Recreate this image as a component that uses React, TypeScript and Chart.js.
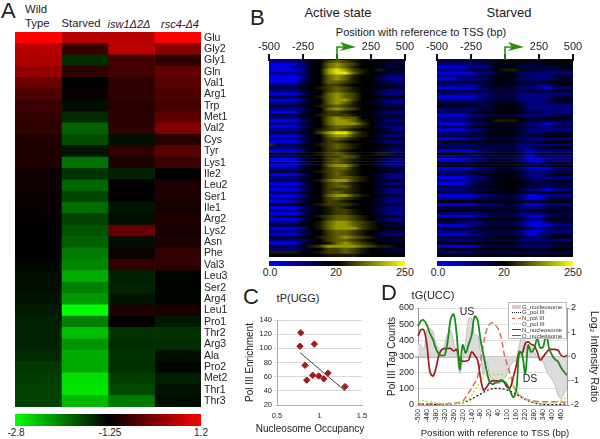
import React, { useEffect, useRef } from "react";
import { Chart, registerables } from "chart.js";

Chart.register(...registerables);
Chart.defaults.font.family = "'Liberation Sans', Arial, sans-serif";
Chart.defaults.color = "#222";

// ---------- Panel A ----------
const trnaLabels = ["Glu","Gly2","Gly1","Gln","Val1","Arg1","Trp","Met1","Val2","Cys","Tyr","Lys1","Ile2","Leu2","Ser1","Ile1","Arg2","Lys2","Asn","Phe","Val3","Leu3","Ser2","Arg4","Leu1","Pro1","Thr2","Arg3","Ala","Pro2","Met2","Thr1","Thr3"];
const wildType = [1,.72,.68,.58,.42,.3,.22,.2,.18,.12,.12,.13,.06,.05,.04,.03,.02,0,0,0,-.03,-.05,-.06,-.07,-.1,-.13,-.14,-.14,-.16,-.22,-.24,-.25,-.26];
const starved = [.72,.22,-.18,.18,0,.03,-.05,-.16,-.38,-.3,-.08,-.45,-.2,-.4,-.27,-.42,-.25,-.32,-.38,-.48,-.52,-.68,-.5,-.6,-1,-.5,-.75,-.58,-.68,-.66,-.88,-.9,-.72];
const isw1 = [.72,.75,.26,.26,.18,.18,.16,.17,.18,-.06,.18,.12,-.13,0,.02,-.08,-.05,.4,-.05,.05,.2,-.12,-.14,-.08,.12,0,-.2,-.18,-.2,-.18,-.24,-.28,-.48];
const rsc4 = [1,.55,.18,.38,.35,.3,.28,.36,.5,.16,.34,.22,0,.1,.1,.08,.12,.08,.1,.2,.2,-.01,-.02,-.02,.1,-.1,-.2,-.18,-.06,-.02,-.12,-.08,-.05];
const heatColumns = [wildType, starved, isw1, rsc4];

// ---------- Panel B (0 blue, 4 black, 9 yellow) ----------
const activeRows = [
"1111234676544332","0000134787644323","0001134787544322","0000134898654543","1111134899754322","0000134787544211",
"0000134787544211","0000234776544221","1111234665444322","2222345676544332","1111234676543211","0000134787644211",
"3222345787644333","0000134788644211","1111234787543211","2222345676544322","1111134787644333","0000234665444211",
"2222345666543222","1111234787744322","0000134788754211","1111234788864222","0000134677654211","1111245676544321",
"2222346899754332","0000134788654211","1111234676544333","0000134665443211","6222345676544332","1111234676544322",
"0000134665444211","2222345676544552","1111234667644322","0000234676544211","1111134676544211","0000234788644211",
"1111234677544322","2222345676544332","0000134676544211","1111234677654211","3222345788654332","0000134676544211",
"1111234677544333","0000134666544211","2222344676544211","0000134788654322","1111234676544211","0001234665444211",
"3333445666544322","0000134565443211","1111234566543211","0000134566544211","5333345677654332","0000134677654211",
"1111345788765332","2222345788765422","0000145788865443","1111234677654322","0000134677654211","2222345678765333",
"1111134677654322","0000234578765443","2222356888876554","1111234667654322","5555445667654433","3333444555544444"];
const starvedRows = [
"2222222344443344","1111112333222333","0000111334222224","1111222455322222","0000011233111111","1111122344221123",
"0001112333111122","2222222333222333","1111122333221133","0000012222111011","3222222322222233","1111111222111111",
"0000011222111122","1111112222111233","2222222333211122","4333222333211111","1111122333211111","2222233444322111",
"0000112222111122","1111223444322333","1111224555422222","0000122333211011","2222233433221122","0000112333211111",
"1111223433211222","2222223333222333","0000112222111111","5333333333222344","1111122222111111","2222222222112233",
"0000011222101111","3333223333212222","1111112222101111","0000112222100111","2222233333211222","3333333333322233",
"0000011222100011","1111222333211122","2222233333211233","0000112333211111","1111122333321333","0000122344322222",
"2222233344322122","1111222333211011","3222233344333333","0000011222100111","1111122222100122","4433333333322333",
"0000011122100111","2222222222111222","4444443333333333","1111112222111222","0000011222100122","3333233333211333",
"2221112222100122","0000112222100011","3333333333321222","1111122222100111","0000112222101122","2222222333211333",
"1111122222111111","3333333333222233","0000012222111122","5443333333333344","1111122222222222","3333333333333333"];
const tssTicks = [-500, -250, 0, 250, 500];
const heatPalette = ["rgb(0,0,230)","rgb(0,0,125)","rgb(0,0,60)","rgb(0,0,20)","rgb(0,0,0)","rgb(25,25,0)","rgb(60,60,0)","rgb(95,95,0)","rgb(150,150,0)","rgb(230,230,0)"];

// ---------- Panel C ----------
const occupancy = [0.78, 0.77, 0.94, 0.83, 0.85, 0.92, 0.99, 1.05, 1.1, 1.3];
const enrichment = [122, 103, 106, 76, 55, 62, 61, 57, 65, 46];
const trendX = [0.77, 1.3];
const trendY = [94, 40];

// ---------- Panel D ----------
const positions = ["-500","-480","-460","-440","-420","-400","-380","-360","-340","-320","-300","-280","-260","-240","-220","-200","-180","-160","-140","-120","-100","-80","-60","-40","-20","0","20","40","60","80","100","120","140","160","180","200","220","240","260","280","300","320","340","360","380","400","420","440","460","480","500"];
const gNucleosome = [.53,.47,.33,1.08,1.15,1.01,.53,.33,.26,.53,.95,1.08,.53,.19,-.7,-.15,.53,1.56,1.56,.88,.88,.12,-.77,-.22,-.77,-1.04,-1.11,-1.11,-1.08,-.9,-.7,-.36,-.22,-.15,.47,.81,.6,.33,.4,.19,-.01,-.15,-.22,-.56,-.77,-.95,-1.18,-1.59,-1.73,-1.52,-1.25];
const gPol = [6,6,5,5,5,4,4,4,5,5,6,7,8,9,12,15,20,28,38,48,58,68,78,88,96,101,103,103,101,98,92,85,76,66,55,44,34,25,18,13,9,6,4,3,2,2,2,3,4,5,6];
const nPol = [8,7,6,6,6,6,6,6,7,8,9,10,12,14,18,24,47,75,105,135,175,270,380,462,499,509,493,468,410,308,246,185,123,78,62,48,38,32,28,25,22,20,20,20,20,20,20,18,18,18,18];
const oPol = [30,28,26,23,20,15,11,9,8,8,8,9,10,12,14,17,25,40,62,90,118,140,165,182,186,187,187,189,190,185,172,150,120,88,65,50,38,28,20,14,12,10,9,9,10,12,16,22,30,40,50];
const nNucleosome = [.84,1.11,1.08,.47,-.63,-.81,-.49,.05,.29,.33,.33,.33,.23,.29,-.15,-.19,-.19,-.15,.19,.05,-.15,-.9,-1.38,-1.27,-1.08,-1,-1,-1.01,-.97,-1.08,-1.27,-1.27,-.84,-.36,.19,.15,.53,.6,.5,.44,.19,-.15,-.01,.15,.29,.29,.29,.26,.05,-.01,.05];
const oNucleosome = [1.25,1.47,1.49,1.29,.95,.7,.33,.1,.04,.07,.67,1.56,1.74,.88,-.53,.47,.15,.5,.88,1.66,1.49,.67,.05,-.56,-1.04,-1.14,-1.08,-1.04,-1,-1.04,-1.18,-1.45,-1.68,-1.38,.19,.05,-.7,.47,.19,.33,.74,.36,.4,.92,.33,.05,-.12,-.22,-.45,-.63,-.77];
const legendNames = ["G_nucleosome","G_pol III","N_pol III","O_pol III","N_nucleosome","O_nucleosome"];

const heatColor = (v: number) => {
  const c = Math.round(Math.abs(v) * 255);
  return v >= 0 ? `rgb(${c},0,0)` : `rgb(0,${c},0)`;
};

function heatmapAConfig(): any {
  return {
    type: "bar",
    data: {
      labels: trnaLabels,
      datasets: heatColumns.map((col, c) => ({
        data: col.map(() => [c, c + 1]),
        backgroundColor: col.map(heatColor),
        borderWidth: 0,
        barPercentage: 1,
        categoryPercentage: 1,
        grouped: false,
      })),
    },
    options: {
      indexAxis: "y",
      animation: false,
      responsive: false,
      layout: { padding: 0 },
      plugins: { legend: { display: false }, tooltip: { enabled: false } },
      scales: {
        x: { type: "linear", min: 0, max: 4, display: false },
        y: {
          position: "right",
          border: { display: false },
          grid: { display: false, drawTicks: false },
          ticks: { autoSkip: false, padding: 3, font: { size: 10.5 }, color: "#222" },
          afterFit: (s: any) => { s.width = 34; s.paddingTop = 0; s.paddingBottom = 0; },
        },
      },
    },
  };
}

function tssConfig(rows: string[]): any {
  const arrow = {
    id: "tssArrow",
    afterDraw(chart: any) {
      const g = chart.ctx;
      const px = chart.scales.x.getPixelForValue(0);
      const top = chart.chartArea.top;
      g.save();
      g.strokeStyle = "#2e8b12";
      g.fillStyle = "#2e8b12";
      g.lineWidth = 1.6;
      g.beginPath();
      g.moveTo(px, top);
      g.lineTo(px, top - 13);
      g.lineTo(px + 7, top - 13);
      g.stroke();
      g.beginPath();
      g.moveTo(px + 3, top - 18);
      g.lineTo(px + 19, top - 13);
      g.lineTo(px + 3, top - 9);
      g.lineTo(px + 7, top - 13);
      g.closePath();
      g.fill();
      g.restore();
    },
  };
  return {
    type: "bar",
    plugins: [arrow],
    data: {
      labels: rows.map((_, i) => String(i)),
      datasets: [{
        data: rows.map(() => [-500, 500]),
        backgroundColor: (ctx: any) => {
          const area = ctx.chart.chartArea;
          if (!area || ctx.dataIndex === undefined) return "#000";
          const g = ctx.chart.ctx.createLinearGradient(area.left, 0, area.right, 0);
          const r = rows[ctx.dataIndex];
          for (let i = 0; i < r.length; i++) g.addColorStop(i / 16, heatPalette[Number(r[i])]);
          return g;
        },
        borderWidth: 0,
        barPercentage: 1,
        categoryPercentage: 1,
      }],
    },
    options: {
      indexAxis: "y",
      animation: false,
      responsive: false,
      layout: { padding: { left: 14, right: 15, top: 0, bottom: 0 } },
      plugins: { legend: { display: false }, tooltip: { enabled: false } },
      scales: {
        y: { display: false },
        x: {
          type: "linear",
          position: "top",
          min: -500,
          max: 500,
          afterBuildTicks: (s: any) => { s.ticks = tssTicks.map((value) => ({ value })); },
          border: { color: "#111", width: 2 },
          grid: { drawOnChartArea: false, color: "#111", lineWidth: 2, tickLength: 6 },
          ticks: {
            font: { size: 11 },
            color: "#222",
            padding: 0,
            maxRotation: 0,
            callback: (v: any) => (v === 0 ? "" : String(v)),
          },
          afterFit: (s: any) => { s.height = 20; },
        },
      },
    },
  };
}

function scatterConfig(): any {
  return {
    type: "scatter",
    data: {
      datasets: [
        {
          data: occupancy.map((x, i) => ({ x, y: enrichment[i] })),
          pointStyle: "rectRot",
          pointRadius: 3.2,
          backgroundColor: "#a31a1a",
          borderColor: "#a31a1a",
          order: 1,
        },
        {
          type: "line",
          data: trendX.map((x, i) => ({ x, y: trendY[i] })),
          borderColor: "#444",
          borderWidth: 1,
          pointRadius: 0,
          order: 2,
        },
      ],
    },
    options: {
      animation: false,
      responsive: false,
      layout: { padding: { top: 8, right: 17 } },
      plugins: { legend: { display: false }, tooltip: { enabled: false } },
      scales: {
        x: {
          type: "linear",
          min: 0.5,
          max: 1.5,
          border: { color: "#aaa" },
          grid: { display: false, tickLength: 3, color: "#aaa" },
          ticks: { stepSize: 0.5, font: { size: 7.5 }, color: "#222", padding: 3, maxRotation: 0, callback: (v: any) => String(v) },
          afterFit: (s: any) => { s.height = 31; },
        },
        y: {
          min: 20,
          max: 140,
          border: { color: "#aaa" },
          grid: { color: "#d9d9d9", tickLength: 3 },
          ticks: { stepSize: 20, font: { size: 7.5 }, color: "#222", padding: 2 },
          title: { display: true, text: "Pol III Enrichment", font: { size: 10 }, color: "#222", padding: 0 },
          afterFit: (s: any) => { s.width = 33; },
        },
      },
    },
  };
}

function profileConfig(): any {
  const line = (i: number, data: number[], yAxisID: string, color: string, width: number, dash: number[], order: number) => ({
    label: legendNames[i],
    data,
    yAxisID,
    borderColor: color,
    borderWidth: width,
    borderDash: dash,
    pointRadius: 0,
    tension: 0.35,
    order,
    fill: false,
  });
  return {
    type: "line",
    data: {
      labels: positions,
      datasets: [
        { ...line(0, gNucleosome, "y2", "#bdbdbd", 1, [], 6), fill: { value: 0 }, backgroundColor: "#dcdcdc" },
        line(1, gPol, "y", "#111", 1.2, [2, 2], 5),
        line(2, nPol, "y", "#e0605c", 1.4, [6, 3], 4),
        line(3, oPol, "y", "#b3e63c", 1.5, [2, 2], 3),
        line(4, nNucleosome, "y2", "#a01a1a", 1.7, [], 2),
        line(5, oNucleosome, "y2", "#178a17", 1.8, [], 1),
      ],
    },
    options: {
      animation: false,
      responsive: false,
      layout: { padding: { top: 18 } },
      plugins: { legend: { display: false }, tooltip: { enabled: false } },
      scales: {
        x: {
          border: { color: "#999" },
          grid: { display: false, tickLength: 3, color: "#999" },
          ticks: {
            autoSkip: false,
            minRotation: 90,
            maxRotation: 90,
            font: { size: 6.8 },
            color: "#222",
            padding: 1,
            callback: (_: any, i: number) => (i % 3 === 0 && i < 50 ? positions[i] : ""),
          },
          afterFit: (s: any) => { s.height = 34; },
        },
        y: {
          min: 0,
          max: 600,
          border: { color: "#999" },
          grid: {
            color: (c: any) => (c.tick && c.tick.value === 300 ? "#bdbdbd" : "#e0e0e0"),
            lineWidth: (c: any) => (c.tick && c.tick.value === 300 ? 2 : 1),
            tickLength: 3,
          },
          ticks: { stepSize: 100, font: { size: 9 }, color: "#222", padding: 1 },
          title: { display: true, text: "Pol III Tag Counts", font: { size: 10 }, color: "#222", padding: 0 },
          afterFit: (s: any) => { s.width = 32; },
        },
        y2: {
          position: "right",
          min: -2,
          max: 2,
          border: { color: "#999" },
          grid: { drawOnChartArea: false, tickLength: 3, color: "#999" },
          ticks: { stepSize: 0.5, font: { size: 9 }, color: "#222", padding: 1, callback: (v: any) => String(v) },
          title: { display: true, text: "Log\u2082 Intensity Ratio", font: { size: 10.5 }, color: "#222", padding: 0 },
          afterFit: (s: any) => { s.width = 33; },
        },
      },
    },
  };
}

function Plot({ x, y, w, h, make }: { x: number; y: number; w: number; h: number; make: () => any }) {
  const ref = useRef<HTMLCanvasElement>(null);
  useEffect(() => {
    const chart = new Chart(ref.current as HTMLCanvasElement, make());
    return () => chart.destroy();
  }, []);
  return <canvas ref={ref} width={w} height={h} style={{ position: "absolute", left: x, top: y, width: w, height: h, display: "block" }} />;
}

function Label({ x, y, size, text, align = "center", italic = false }: { x: number; y: number; size: number; text: string; align?: string; italic?: boolean }) {
  const tx = align === "center" ? "-50%" : align === "right" ? "-100%" : "0";
  return (
    <div style={{ position: "absolute", left: x, top: y, fontSize: size, lineHeight: 1, whiteSpace: "nowrap", color: "#222", fontStyle: italic ? "italic" : "normal", fontFamily: "'Liberation Sans', Arial, sans-serif", transform: `translate(${tx},-50%)` }}>
      {text}
    </div>
  );
}

function ColorBar({ x, y, w, h, stops }: { x: number; y: number; w: number; h: number; stops: string }) {
  return <div style={{ position: "absolute", left: x, top: y, width: w, height: h, background: `linear-gradient(to right, ${stops})` }} />;
}

const legendSwatches = [
  { color: "#cfcfcf", style: "solid", thick: 4 },
  { color: "#111", style: "dotted", thick: 1 },
  { color: "#e0605c", style: "dashed", thick: 1 },
  { color: "#b3e63c", style: "dotted", thick: 1 },
  { color: "#a01a1a", style: "solid", thick: 1.5 },
  { color: "#178a17", style: "solid", thick: 1.5 },
];

export default function App() {
  return (
    <div style={{ position: "absolute", left: 0, top: 0, width: 600, height: 439, background: "#fff", overflow: "hidden" }}>
      <Plot x={15} y={32} w={220} h={375} make={heatmapAConfig} />
      <Plot x={255} y={40} w={165} h={217} make={() => tssConfig(activeRows)} />
      <Plot x={423} y={40} w={165} h={217} make={() => tssConfig(starvedRows)} />
      <Plot x={244} y={312} w={135} h={124} make={scatterConfig} />
      <Plot x={386} y={290} w={214} h={149} make={profileConfig} />

      <Label x={1} y={11} size={22} text="A" align="left" />
      <Label x={25} y={10} size={11.3} text="Wild" align="left" />
      <Label x={25} y={24} size={11.3} text="Type" align="left" />
      <Label x={81} y={24} size={11.3} text="Starved" />
      <Label x={129} y={24} size={11} text="isw1Δ2Δ" italic />
      <Label x={180} y={24} size={11} text="rsc4-Δ4" italic />
      <ColorBar x={15} y={414} w={186} h={12} stops="#00ff00, #000 50%, #ff0000" />
      <Label x={16} y={433} size={10} text="-2.8" />
      <Label x={110} y={433} size={10} text="-1.25" />
      <Label x={201} y={433} size={10} text="1.2" />

      <Label x={250} y={18} size={22} text="B" align="left" />
      <Label x={338} y={12} size={13} text="Active state" />
      <Label x={509} y={12} size={13} text="Starved" />
      <Label x={421} y={32} size={11} text="Position with reference to TSS (bp)" />
      <ColorBar x={269} y={261} w={136} h={5} stops="#0000ff, #000 50%, #ffff00" />
      <Label x={270} y={272} size={10.5} text="0.0" />
      <Label x={336} y={272} size={10.5} text="20" />
      <Label x={405} y={272} size={10.5} text="250" />
      <ColorBar x={437} y={261} w={136} h={5} stops="#0000ff, #000 50%, #ffff00" />
      <Label x={438} y={272} size={10.5} text="0.0" />
      <Label x={504} y={272} size={10.5} text="20" />
      <Label x={573} y={272} size={10.5} text="250" />

      <Label x={243} y={297} size={22} text="C" align="left" />
      <Label x={298} y={298} size={11} text="tP(UGG)" />
      <Label x={310} y={429} size={10} text="Nucleosome Occupancy" />

      <Label x={381} y={293} size={22} text="D" align="left" />
      <Label x={433} y={295} size={11} text="tG(UCC)" />
      <Label x={495} y={433} size={9.6} text="Position with reference to TSS (bp)" />
      <Label x={467} y={311} size={10.5} text="US" />
      <Label x={530} y={378} size={10.5} text="DS" />
      <div style={{ position: "absolute", left: 508, top: 302, width: 57, height: 35, background: "rgba(255,255,255,0.85)", border: "1px solid #bbb" }}>
        {legendNames.map((name, i) => (
          <div key={name} style={{ position: "absolute", left: 0, top: 0.5 + i * 5.8, height: 6, width: 57 }}>
            <div style={{ position: "absolute", left: 3, top: 3 - legendSwatches[i].thick / 2, width: 9, borderTop: `${legendSwatches[i].thick}px ${legendSwatches[i].style} ${legendSwatches[i].color}` }} />
            <div style={{ position: "absolute", left: 13, top: 0, fontSize: 6, lineHeight: "6px", color: "#333", fontFamily: "'Liberation Sans', Arial, sans-serif", whiteSpace: "nowrap" }}>{name}</div>
          </div>
        ))}
      </div>
    </div>
  );
}
